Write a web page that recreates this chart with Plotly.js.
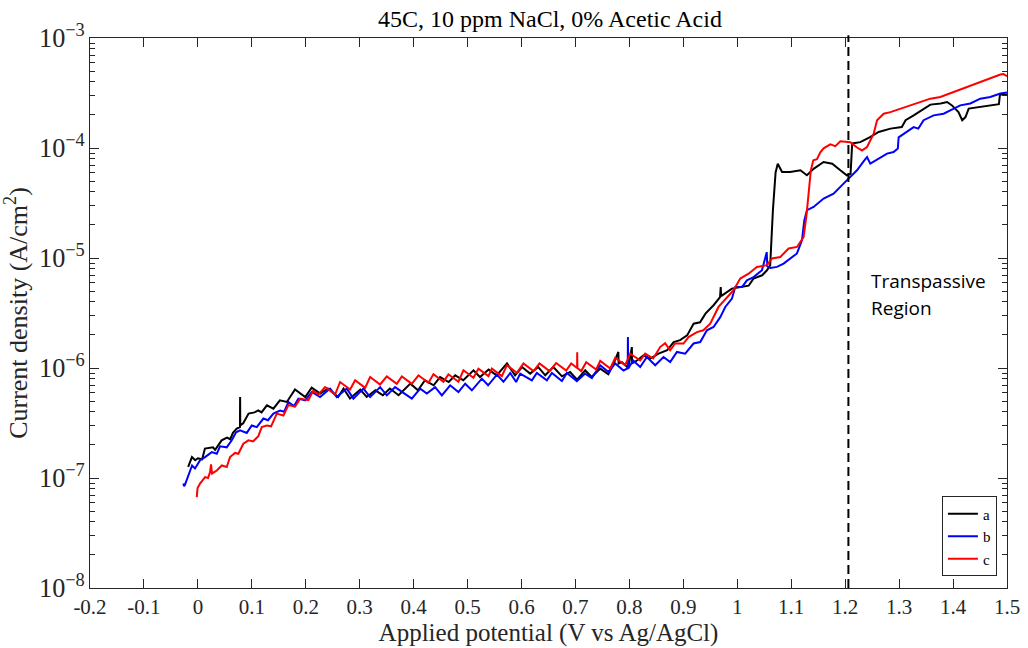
<!DOCTYPE html>
<html>
<head>
<meta charset="utf-8">
<script src="https://cdn.plot.ly/plotly-3.0.1.min.js"></script>
<style>
  html, body { margin: 0; padding: 0; background: #ffffff; }
  #chart { width: 1028px; height: 648px; }
</style>
</head>
<body>
<div id="chart"></div>
<script>
// ---------------- data ----------------
const seriesNames = ["a", "b", "c"];
const seriesColors = ["#000000", "#0000ff", "#ff0000"];

// series a (black)
const aX = [-0.018, -0.011, -0.005, 0.000, 0.008, 0.013, 0.028, 0.032, 0.044, 0.054, 0.060, 0.065, 0.072, 0.078, 0.0783, 0.0786, 0.084, 0.094, 0.105, 0.112, 0.118, 0.128, 0.140, 0.152, 0.165, 0.180, 0.199, 0.211, 0.227, 0.241, 0.260, 0.270, 0.282, 0.301, 0.313, 0.329, 0.343, 0.356, 0.372, 0.394, 0.408, 0.421, 0.437, 0.449, 0.465, 0.477, 0.492, 0.511, 0.523, 0.539, 0.554, 0.573, 0.588, 0.601, 0.616, 0.631, 0.644, 0.659, 0.675, 0.690, 0.703, 0.718, 0.730, 0.746, 0.761, 0.771, 0.7795, 0.780, 0.786, 0.798, 0.8045, 0.805, 0.814, 0.826, 0.839, 0.854, 0.870, 0.882, 0.894, 0.907, 0.919, 0.931, 0.941, 0.956, 0.968, 0.9693, 0.970, 0.977, 0.990, 1.006, 1.021, 1.030, 1.046, 1.055, 1.061, 1.066, 1.071, 1.075, 1.083, 1.098, 1.117, 1.129, 1.142, 1.160, 1.176, 1.191, 1.203, 1.210, 1.213, 1.228, 1.247, 1.262, 1.284, 1.305, 1.312, 1.327, 1.346, 1.358, 1.377, 1.389, 1.398, 1.410, 1.417, 1.423, 1.429, 1.451, 1.475, 1.485, 1.487, 1.500];
const aY = [1.26e-7, 1.55e-7, 1.45e-7, 1.51e-7, 1.48e-7, 1.85e-7, 1.9e-7, 1.8e-7, 2.2e-7, 2.33e-7, 2.25e-7, 2.57e-7, 2.81e-7, 2.9e-7, 5.45e-7, 3.0e-7, 3.14e-7, 3.85e-7, 3.95e-7, 4.12e-7, 3.95e-7, 4.58e-7, 4.27e-7, 5.08e-7, 4.91e-7, 6.37e-7, 5.45e-7, 6.64e-7, 5.85e-7, 6.5e-7, 5.45e-7, 6.5e-7, 5.27e-7, 6.36e-7, 5.45e-7, 6.27e-7, 5.65e-7, 6.5e-7, 5.65e-7, 7.21e-7, 6.27e-7, 7.73e-7, 6.96e-7, 8.28e-7, 7.46e-7, 8.58e-7, 7.73e-7, 9.53e-7, 8.28e-7, 9.67e-7, 8.58e-7, 1.10e-6, 8.58e-7, 1.02e-6, 8.89e-7, 1.02e-6, 8.58e-7, 1.02e-6, 8.4e-7, 9.2e-7, 7.84e-7, 9.53e-7, 8.28e-7, 9.87e-7, 8.76e-7, 1.10e-6, 1.4e-6, 1.1e-6, 1.13e-6, 1.0e-6, 1.55e-6, 1.1e-6, 1.17e-6, 1.30e-6, 1.22e-6, 1.35e-6, 1.45e-6, 1.72e-6, 1.79e-6, 1.98e-6, 2.53e-6, 2.6e-6, 3.12e-6, 3.72e-6, 4.42e-6, 5.45e-6, 4.5e-6, 4.74e-6, 5.27e-6, 5.45e-6, 5.6e-6, 6.5e-6, 6.96e-6, 7.73e-6, 8.6e-6, 2.72e-5, 6.0e-5, 7.2e-5, 6.05e-5, 6.05e-5, 6.27e-5, 5.65e-5, 6.5e-5, 7.46e-5, 7.2e-5, 6.27e-5, 5.65e-5, 5.82e-5, 1.1e-4, 1.13e-4, 1.26e-4, 1.40e-4, 1.5e-4, 1.55e-4, 1.79e-4, 1.98e-4, 2.28e-4, 2.48e-4, 2.54e-4, 2.62e-4, 2.44e-4, 2.12e-4, 1.79e-4, 1.91e-4, 2.28e-4, 2.36e-4, 2.44e-4, 2.5e-4, 3.08e-4, 3.05e-4];

// series b (blue)
const bX = [-0.027, -0.0255, -0.0238, -0.0207, -0.0145, -0.0108, -0.0053, 0.004, 0.0133, 0.0257, 0.035, 0.0411, 0.0535, 0.0628, 0.0708, 0.0782, 0.0906, 0.0999, 0.1092, 0.1214, 0.130, 0.140, 0.1524, 0.160, 0.1678, 0.178, 0.1863, 0.1987, 0.2112, 0.2266, 0.2451, 0.2575, 0.2761, 0.2883, 0.3069, 0.3193, 0.3378, 0.3503, 0.3656, 0.3805, 0.3966, 0.4121, 0.4244, 0.4398, 0.4523, 0.4677, 0.483, 0.4955, 0.5079, 0.5264, 0.538, 0.5543, 0.5665, 0.579, 0.590, 0.5975, 0.6192, 0.6284, 0.647, 0.6563, 0.6748, 0.6841, 0.7026, 0.718, 0.7304, 0.7458, 0.7612, 0.7737, 0.789, 0.7969, 0.7972, 0.7978, 0.807, 0.820, 0.8324, 0.8478, 0.8632, 0.8756, 0.8881, 0.9034, 0.9189, 0.9313, 0.9437, 0.956, 0.9684, 0.9777, 0.9901, 0.9962, 1.0087, 1.0179, 1.0302, 1.0457, 1.0546, 1.0556, 1.0612, 1.0736, 1.0858, 1.0983, 1.1106, 1.1199, 1.1242, 1.1292, 1.1414, 1.160, 1.1785, 1.197, 1.2094, 1.2219, 1.2341, 1.2405, 1.2466, 1.259, 1.2776, 1.2898, 1.2976, 1.2991, 1.3146, 1.3269, 1.3356, 1.3454, 1.364, 1.3825, 1.3949, 1.4134, 1.432, 1.4505, 1.469, 1.4876, 1.500];
const bY = [8.9e-8, 8.4e-8, 8.7e-8, 9.5e-8, 1.17e-7, 1.3e-7, 1.22e-7, 1.45e-7, 1.55e-7, 1.72e-7, 1.66e-7, 1.94e-7, 1.9e-7, 2.2e-7, 2.6e-7, 2.71e-7, 2.57e-7, 3.0e-7, 2.9e-7, 3.47e-7, 3.35e-7, 3.85e-7, 4.1e-7, 4.0e-7, 4.9e-7, 4.5e-7, 5.27e-7, 5.08e-7, 6.05e-7, 5.45e-7, 6.5e-7, 5.45e-7, 6.5e-7, 5.27e-7, 6.5e-7, 5.45e-7, 6.7e-7, 5.64e-7, 6.7e-7, 6.0e-7, 5.27e-7, 6.5e-7, 5.85e-7, 6.7e-7, 5.64e-7, 6.96e-7, 6.05e-7, 7.2e-7, 6.27e-7, 8.0e-7, 6.96e-7, 8.7e-7, 7.5e-7, 9.0e-7, 7.46e-7, 8.9e-7, 7.73e-7, 9.0e-7, 7.73e-7, 9.0e-7, 7.6e-7, 9.0e-7, 7.6e-7, 8.9e-7, 8.1e-7, 1.06e-6, 9.2e-7, 1.1e-6, 9.5e-7, 9.9e-7, 1.91e-6, 9.9e-7, 1.17e-6, 1.02e-6, 1.26e-6, 1.06e-6, 1.26e-6, 1.13e-6, 1.4e-6, 1.35e-6, 1.67e-6, 1.72e-6, 2.2e-6, 2.36e-6, 2.9e-6, 3.59e-6, 4.27e-6, 5.45e-6, 5.45e-6, 6.27e-6, 6.7e-6, 7.73e-6, 1.13e-5, 8.4e-6, 8.1e-6, 8.3e-6, 8.9e-6, 9.9e-6, 1.1e-5, 1.45e-5, 2.2e-5, 2.72e-5, 2.91e-5, 3.47e-5, 3.85e-5, 4.74e-5, 5.45e-5, 6.27e-5, 7.57e-5, 8.28e-5, 7.2e-5, 7.88e-5, 8.9e-5, 9.2e-5, 9.9e-5, 1.25e-4, 1.40e-4, 1.55e-4, 1.5e-4, 1.79e-4, 1.98e-4, 2.05e-4, 2.2e-4, 2.44e-4, 2.54e-4, 2.81e-4, 2.91e-4, 3.13e-4, 3.2e-4];

// series c (red)
const cX = [-0.0021, -0.0006, 0.004, 0.0133, 0.0188, 0.0226, 0.0244, 0.0263, 0.035, 0.0443, 0.0535, 0.0596, 0.0689, 0.075, 0.0843, 0.0936, 0.1023, 0.1121, 0.1184, 0.1277, 0.1357, 0.1463, 0.1585, 0.1678, 0.1802, 0.1895, 0.2049, 0.2136, 0.2235, 0.2358, 0.2544, 0.2636, 0.2822, 0.2915, 0.310, 0.3193, 0.3378, 0.3502, 0.3688, 0.3781, 0.3966, 0.4089, 0.4274, 0.4367, 0.4552, 0.4645, 0.483, 0.4923, 0.5109, 0.5201, 0.5387, 0.545, 0.5635, 0.5728, 0.5914, 0.6036, 0.6222, 0.6333, 0.6518, 0.6642, 0.6828, 0.6921, 0.7030, 0.7032, 0.7036, 0.7106, 0.7199, 0.7384, 0.7459, 0.7644, 0.7737, 0.7922, 0.8015, 0.820, 0.8293, 0.8441, 0.8569, 0.8662, 0.8755, 0.8847, 0.9003, 0.9096, 0.9252, 0.9369, 0.9498, 0.9652, 0.9808, 0.9931, 1.0055, 1.0209, 1.0364, 1.055, 1.0643, 1.0797, 1.0951, 1.1106, 1.1229, 1.1279, 1.1322, 1.1363, 1.1409, 1.1477, 1.1539, 1.160, 1.1724, 1.1817, 1.191, 1.2095, 1.2219, 1.2312, 1.2405, 1.2466, 1.2528, 1.2591, 1.2714, 1.2838, 1.3023, 1.3269, 1.3579, 1.3764, 1.4011, 1.4259, 1.4506, 1.4753, 1.4877, 1.4933, 1.500];
const cY = [6.7e-8, 8.1e-8, 8.9e-8, 1.02e-7, 1.0e-7, 1.13e-7, 1.33e-7, 1.1e-7, 1.17e-7, 1.3e-7, 1.26e-7, 1.55e-7, 1.69e-7, 1.66e-7, 2.05e-7, 2.2e-7, 2.15e-7, 2.4e-7, 2.9e-7, 3.0e-7, 2.95e-7, 3.85e-7, 3.7e-7, 4.6e-7, 4.45e-7, 5.27e-7, 5.1e-7, 6.2e-7, 5.75e-7, 6.72e-7, 5.74e-7, 7.46e-7, 6.38e-7, 7.73e-7, 6.6e-7, 8.28e-7, 7.08e-7, 8.4e-7, 7.18e-7, 8.4e-7, 7.18e-7, 8.58e-7, 7.34e-7, 8.76e-7, 7.5e-7, 8.76e-7, 7.5e-7, 9.53e-7, 8.15e-7, 9.87e-7, 8.44e-7, 9.87e-7, 8.44e-7, 1.06e-6, 9.04e-7, 1.10e-6, 9.37e-7, 1.10e-6, 9.37e-7, 1.11e-6, 9.49e-7, 1.10e-6, 1.0e-6, 1.39e-6, 1.0e-6, 9.37e-7, 1.13e-6, 9.69e-7, 1.16e-6, 9.9e-7, 1.24e-6, 1.06e-6, 1.35e-6, 1.17e-6, 1.35e-6, 1.22e-6, 1.55e-6, 1.68e-6, 1.45e-6, 1.67e-6, 1.67e-6, 1.91e-6, 2.12e-6, 2.2e-6, 2.53e-6, 3.59e-6, 4.42e-6, 5.09e-6, 6.5e-6, 7.2e-6, 8.28e-6, 8.6e-6, 9.9e-6, 1.02e-5, 1.22e-5, 1.26e-5, 1.55e-5, 2.36e-5, 3.85e-5, 6.27e-5, 7.73e-5, 7.9e-5, 9.14e-5, 9.93e-5, 1.08e-4, 1.04e-4, 1.15e-4, 1.13e-4, 1.01e-4, 9.5e-5, 1.02e-4, 1.17e-4, 1.35e-4, 1.79e-4, 2.05e-4, 2.12e-4, 2.28e-4, 2.48e-4, 2.81e-4, 2.91e-4, 3.23e-4, 3.59e-4, 4.04e-4, 4.42e-4, 4.65e-4, 4.7e-4, 4.5e-4];

// axis ticks and annotation
const xTickVals = [-0.2, -0.1, 0, 0.1, 0.2, 0.3, 0.4, 0.5, 0.6, 0.7, 0.8, 0.9, 1, 1.1, 1.2, 1.3, 1.4, 1.5];
const xTickText = ["-0.2", "-0.1", "0", "0.1", "0.2", "0.3", "0.4", "0.5", "0.6", "0.7", "0.8", "0.9", "1", "1.1", "1.2", "1.3", "1.4", "1.5"];
const xRange = [-0.2, 1.5];
const yRangeExp = [-8, -3];
const transpassiveX = 1.206;
const noteLines = ["Transpassive", "Region"];
const titleText = "45C, 10 ppm NaCl, 0% Acetic Acid";
const xTitle = "Applied potential (V vs Ag/AgCl)";
const yTitle = "Current density (A/cm<sup>2</sup>)";

// ---------------- figure ----------------
const serif = "Liberation Serif";
const axisColor = "#262626";
const xs = [aX, bX, cX];
const ys = [aY, bY, cY];

const traces = seriesNames.map((n, i) => ({
  type: "scatter",
  mode: "lines",
  name: n,
  x: xs[i],
  y: ys[i],
  line: { color: seriesColors[i], width: 2 }
}));

const layout = {
  width: 1028,
  height: 648,
  paper_bgcolor: "#ffffff",
  plot_bgcolor: "#ffffff",
  margin: { l: 90, r: 21, t: 38, b: 60, pad: 0 },
  showlegend: true,
  font: { family: serif, color: axisColor },
  title: {
    text: titleText,
    font: { family: serif, size: 24, color: "#000000" },
    x: 0.535, xanchor: "center",
    y: 0.972, yanchor: "middle"
  },
  xaxis: {
    range: xRange,
    tickmode: "array",
    tickvals: xTickVals,
    ticktext: xTickText,
    ticks: "inside",
    ticklen: 9,
    tickwidth: 1,
    tickcolor: axisColor,
    showline: true,
    linecolor: axisColor,
    linewidth: 1,
    mirror: "allticks",
    showgrid: false,
    zeroline: false,
    tickfont: { family: serif, size: 21, color: axisColor },
    title: { text: xTitle, font: { family: serif, size: 25, color: axisColor }, standoff: 4 }
  },
  yaxis: {
    type: "log",
    range: yRangeExp,
    dtick: 1,
    exponentformat: "power",
    ticks: "inside",
    ticklen: 9,
    tickwidth: 1,
    tickcolor: axisColor,
    showline: true,
    linecolor: axisColor,
    linewidth: 1,
    mirror: "allticks",
    showgrid: false,
    zeroline: false,
    minor: { dtick: "D1", ticks: "inside", ticklen: 5, tickwidth: 1, tickcolor: axisColor, showgrid: false },
    tickfont: { family: serif, size: 21, color: axisColor },
    title: { text: yTitle, font: { family: serif, size: 26, color: axisColor }, standoff: 3 }
  },
  legend: {
    x: 0.989, xanchor: "right",
    y: 0.021, yanchor: "bottom",
    bgcolor: "#ffffff",
    bordercolor: axisColor,
    borderwidth: 1,
    font: { family: serif, size: 15, color: "#000000" },
    tracegroupgap: 0,
    itemwidth: 30
  },
  shapes: [{
    type: "line", xref: "x", yref: "paper",
    x0: transpassiveX, x1: transpassiveX, y0: 0, y1: 1.005,
    line: { color: "#000000", width: 2, dash: "9px,5px" }
  }],
  annotations: [
    { text: noteLines[0], xref: "x", yref: "y", x: 1.2435, y: -5.21, xanchor: "left", yanchor: "middle", showarrow: false, font: { family: "Open Sans", size: 19, color: "#000000" } },
    { text: noteLines[1], xref: "x", yref: "y", x: 1.2435, y: -5.455, xanchor: "left", yanchor: "middle", showarrow: false, font: { family: "Open Sans", size: 19, color: "#000000" } }
  ]
};

Plotly.newPlot("chart", traces, layout, { displayModeBar: false, staticPlot: true });
</script>
</body>
</html>
